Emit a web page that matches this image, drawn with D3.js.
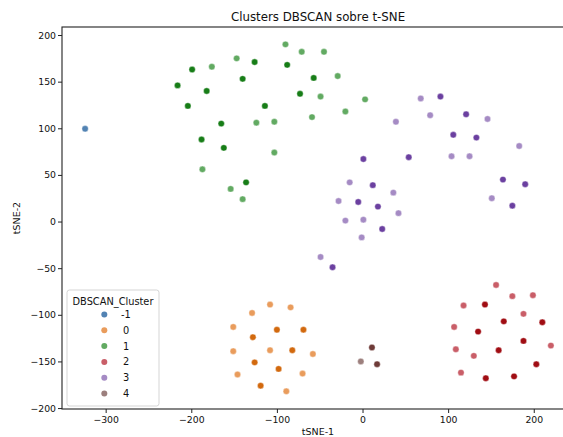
<!DOCTYPE html>
<html><head><meta charset="utf-8">
<script src="https://cdn.jsdelivr.net/npm/d3@7"></script>
<style>body{margin:0;background:#fff;overflow:hidden}svg{display:block}</style>
</head><body><svg id="c" width="563" height="437"></svg>
<script>
// cluster labels
const clusterLabels = ["-1","0","1","2","3","4"];
// [tSNE-1, tSNE-2, overlap(1 = darker / stacked point)]
const clusterNoise = [[-324,99.5,0]];
const cluster0 = [[-108,-89,0],[-84,-92,0],[-129,-98,0],[-151,-113,0],[-100,-116,1],[-69,-116,1],[-128,-124,1],[-151,-139,0],[-108,-138,0],[-82,-138,1],[-58,-142,0],[-126,-151,1],[-98,-158,1],[-146,-164,0],[-70,-163,0],[-119,-176,1],[-89,-182,0]];
const cluster1 = [[-90,190,0],[-71,182,0],[-45,182,0],[-147,175,0],[-126,171,1],[-88,168,1],[-199,163,1],[-176,166,0],[-140,153,1],[-57,154,1],[-29,156,0],[-216,146,1],[-182,140,1],[-73,137,1],[-49,134,0],[-204,124,1],[-114,124,1],[3,131,0],[-20,118,0],[-59,112,0],[-165,105,1],[-124,106,0],[-103,107,0],[-188,88,1],[-162,79,1],[-103,74,0],[-187,56,0],[-136,42,1],[-154,35,0],[-140,24,0]];
const cluster2 = [[156,-68,0],[175,-80,0],[199,-79,0],[118,-90,0],[143,-89,1],[188,-99,0],[165,-107,1],[210,-108,1],[107,-113,0],[135,-118,1],[188,-128,1],[220,-133,0],[109,-137,0],[130,-144,0],[159,-138,1],[203,-153,1],[115,-162,0],[144,-168,1],[177,-166,1]];
const cluster3 = [[68,132,0],[91,134,1],[79,114,0],[121,115,1],[146,110,0],[39,107,0],[106,93,1],[133,90,1],[183,81,0],[1,67,1],[54,69,1],[104,70,0],[125,70,0],[164,45,1],[190,40,1],[151,25,0],[175,17,1],[-15,42,0],[12,39,1],[36,31,0],[-28,22,0],[-5,21,1],[18,16,1],[42,9,0],[-20,1,0],[1,2,0],[23,-8,1],[-1,-17,0],[-49,-38,0],[-35,-49,1]];
const cluster4 = [[11,-135,1],[-2,-150,0],[17,-153,1]];
const clusterData = [clusterNoise, cluster0, cluster1, cluster2, cluster3, cluster4];
const xTicks = [-300,-200,-100,0,100,200];
const yTicks = [-200,-150,-100,-50,0,50,100,150,200];

const lightCol = ["#5283b3","#e99c5c","#62aa62","#c95e68","#a58bc4","#9c7f7d"];
const darkCol  = ["#3a6c9c","#d2690e","#177d17","#a00d13","#6b40a0","#6e3b38"];

const svg = d3.select("#c");
const L = 62, T = 27, R = 574, B = 409;
const x = d3.scaleLinear().domain([-351, 247]).range([L, R]);
const y = d3.scaleLinear().domain([-201, 208.6]).range([B, T]);
const fmt = v => (v < 0 ? "\u2212" + Math.abs(v) : String(v));

const pts = [];
clusterData.forEach((arr, ci) => arr.forEach(p => pts.push({x:p[0], y:p[1], d:p[2], c:ci})));
svg.append("g").selectAll("circle").data(pts).join("circle")
  .attr("cx", d => x(d.x)).attr("cy", d => y(d.y)).attr("r", 3.2)
  .attr("fill", d => d.d ? darkCol[d.c] : lightCol[d.c])
  .attr("stroke", "#fff").attr("stroke-width", 0.4);

// frame
svg.append("rect").attr("x", L).attr("y", T).attr("width", R - L).attr("height", B - T)
  .attr("fill", "none").attr("stroke", "#222").attr("stroke-width", 1.1);

const ax = svg.append("g").attr("transform", `translate(0,${B})`)
  .call(d3.axisBottom(x).tickValues(xTicks).tickFormat(fmt).tickSize(4).tickPadding(3));
const ay = svg.append("g").attr("transform", `translate(${L},0)`)
  .call(d3.axisLeft(y).tickValues(yTicks).tickFormat(fmt).tickSize(4).tickPadding(2));
[ax, ay].forEach(g => {
  g.select(".domain").remove();
  g.selectAll("line").attr("stroke", "#222");
  g.selectAll("text").attr("fill", "#111").style("font-family", "DejaVu Sans").style("font-size", "9.3px");
});

svg.append("text").attr("x", (L + R) / 2).attr("y", 21).attr("text-anchor", "middle")
  .style("font-family", "DejaVu Sans").style("font-size", "11.8px").attr("fill", "#111")
  .text("Clusters DBSCAN sobre t-SNE");
svg.append("text").attr("x", (L + R) / 2).attr("y", 435).attr("text-anchor", "middle")
  .style("font-family", "DejaVu Sans").style("font-size", "9.5px").attr("fill", "#111").text("tSNE-1");
svg.append("text").attr("transform", `translate(20,${(T + B) / 2}) rotate(-90)`).attr("text-anchor", "middle")
  .style("font-family", "DejaVu Sans").style("font-size", "9.5px").attr("fill", "#111").text("tSNE-2");

// legend
const lg = svg.append("g");
lg.append("rect").attr("x", 67).attr("y", 290).attr("width", 92).attr("height", 116).attr("rx", 2.5)
  .attr("fill", "#fff").attr("fill-opacity", 0.85).attr("stroke", "#d0d0d0").attr("stroke-width", 0.9);
lg.append("text").attr("x", 113).attr("y", 305).attr("text-anchor", "middle")
  .style("font-family", "DejaVu Sans").style("font-size", "9.8px").attr("fill", "#111").text("DBSCAN_Cluster");
clusterLabels.forEach((lab, i) => {
  const yy = 314.5 + i * 15.8;
  lg.append("circle").attr("cx", 104.3).attr("cy", yy).attr("r", 3).attr("fill", lightCol[i]);
  lg.append("text").attr("x", lab === "-1" ? 121 : 123).attr("y", yy + 3.5)
    .style("font-family", "DejaVu Sans").style("font-size", "9.8px").attr("fill", "#111").text(lab);
});
</script></body></html>
